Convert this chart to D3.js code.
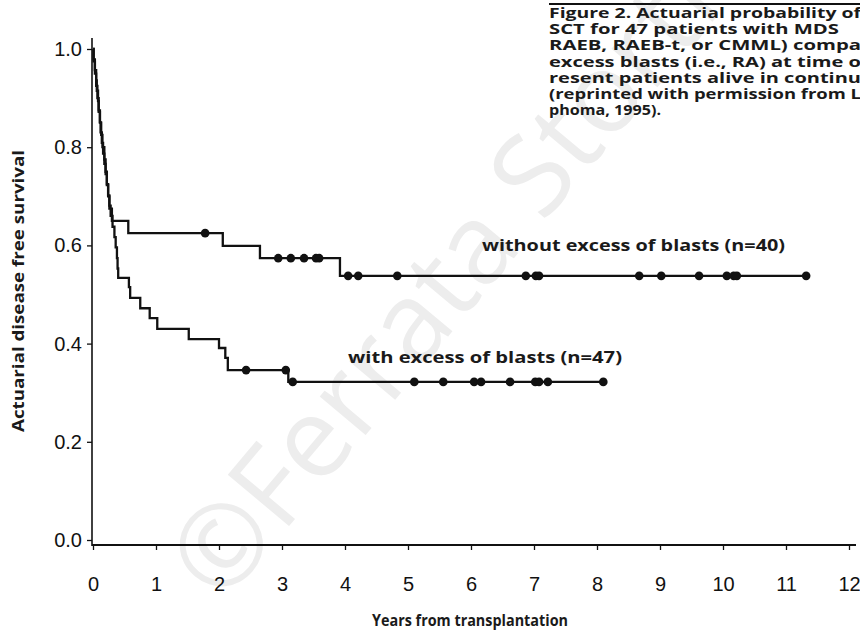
<!DOCTYPE html>
<html>
<head>
<meta charset="utf-8">
<script src="https://cdn.jsdelivr.net/npm/d3@7"></script>
<style>
  body { margin: 0; background: #fff; }
  .tick text { font-family: "Liberation Sans", Arial, sans-serif; font-size: 20px; fill: #111; }
  .tick line { stroke: #111; stroke-width: 1.3; }
  .bold-label { font-family: "Open Sans", "DejaVu Sans", sans-serif; font-weight: 700; fill: #1a1a1a; }
</style>
</head>
<body>
<div id="chart-div"></div>
<script>
// Kaplan-Meier step data (time in years, survival after step)
var upperTimes = [0, 0.01, 0.03, 0.05, 0.07, 0.09, 0.11, 0.13, 0.15, 0.18, 0.20, 0.22, 0.24, 0.26, 0.30, 0.56, 2.06, 2.65, 3.92];
var upperSurv  = [1.0, 0.975, 0.95, 0.925, 0.90, 0.875, 0.85, 0.825, 0.80, 0.775, 0.75, 0.725, 0.70, 0.675, 0.65, 0.625, 0.599, 0.574, 0.538];
var upperEnd = 11.32;
var upperCensored = [1.78, 2.94, 3.14, 3.35, 3.54, 3.59, 4.05, 4.21, 4.83, 6.87, 7.03, 7.08, 8.67, 9.02, 9.62, 10.06, 10.17, 10.22, 11.32];

var lowerTimes = [0, 0.01, 0.03, 0.05, 0.06, 0.08, 0.09, 0.11, 0.12, 0.14, 0.16, 0.18, 0.20, 0.22, 0.24, 0.26, 0.28, 0.31, 0.34, 0.36, 0.38, 0.39, 0.40, 0.57, 0.59, 0.75, 0.90, 1.02, 1.52, 2.00, 2.10, 2.14, 3.10];
var lowerSurv  = [1.0, 0.979, 0.957, 0.936, 0.915, 0.894, 0.872, 0.851, 0.830, 0.809, 0.787, 0.766, 0.745, 0.723, 0.702, 0.681, 0.660, 0.638, 0.617, 0.596, 0.574, 0.553, 0.534, 0.515, 0.493, 0.472, 0.452, 0.430, 0.409, 0.391, 0.371, 0.346, 0.322];
var lowerEnd = 8.10;
var lowerCensored = [2.43, 3.06, 3.17, 5.10, 5.56, 6.05, 6.16, 6.62, 7.02, 7.08, 7.22, 8.10];

var xTicks = [0, 1, 2, 3, 4, 5, 6, 7, 8, 9, 10, 11, 12];
var yTicks = [0, 0.2, 0.4, 0.6, 0.8, 1.0];

var seriesLabels = ["without excess of blasts (n=40)", "with excess of blasts (n=47)"];
var captionLines = [
  "Figure 2. Actuarial probability of",
  "SCT for 47 patients with MDS",
  "RAEB, RAEB-t, or CMML) compa",
  "excess blasts (i.e., RA) at time o",
  "resent patients alive in continu",
  "(reprinted with permission from L",
  "phoma, 1995)."
];

var fn = {};
var vars = {};

vars.chart = { width: 860, height: 634, selections: {} };

fn.build_steps = function(times, surv, end) {
  var pts = times.map(function(t, i) { return { x: t, y: surv[i] }; });
  pts.push({ x: end, y: surv[surv.length - 1] });
  return pts;
};

fn.surv_at = function(times, surv, t) {
  var idx = d3.bisectRight(times, t) - 1;
  return surv[Math.max(0, idx)];
};

fn.main = function() {
  var svg = d3.select("#chart-div").append("svg")
    .attr("width", vars.chart.width)
    .attr("height", vars.chart.height)
    .style("display", "block");

  svg.append("rect").attr("width", 860).attr("height", 634).attr("fill", "#fff");

  // watermark
  svg.append("text")
    .attr("transform", "translate(222,606) rotate(-50)")
    .attr("font-family", "'Open Sans', sans-serif")
    .attr("font-size", 112)
    .attr("fill", "#ededed")
    .text("\u00a9Ferrata Storti Foundation");

  var x = d3.scaleLinear().domain([0, 12]).range([93, 849]);
  var y = d3.scaleLinear().domain([0, 1]).range([540, 49]);
  vars.chart.x_scale = x;
  vars.chart.y_scale = y;

  // axis lines drawn a bit longer than the data range, like the print
  svg.append("line").attr("x1", 92).attr("x2", 92).attr("y1", 38).attr("y2", 546)
    .attr("stroke", "#111").attr("stroke-width", 1.6);
  svg.append("line").attr("x1", 92).attr("x2", 856).attr("y1", 545).attr("y2", 545)
    .attr("stroke", "#111").attr("stroke-width", 1.8);

  var yAxis = svg.append("g")
    .attr("transform", "translate(92,0)")
    .call(d3.axisLeft(y).tickValues(yTicks).tickFormat(d3.format(".1f")).tickSize(5).tickPadding(5));
  yAxis.select(".domain").remove();

  var xAxis = svg.append("g")
    .attr("transform", "translate(0,545)")
    .call(d3.axisBottom(x).tickValues(xTicks).tickFormat(d3.format("d")).tickSize(5).tickPadding(27));
  xAxis.select(".domain").remove();

  // axis titles
  svg.append("text").attr("class", "bold-label")
    .attr("transform", "translate(24,291) rotate(-90)")
    .attr("text-anchor", "middle")
    .attr("font-size", 16.5)
    .attr("textLength", 282).attr("lengthAdjust", "spacingAndGlyphs")
    .text("Actuarial disease free survival");

  svg.append("text").attr("class", "bold-label")
    .attr("x", 470).attr("y", 626)
    .attr("text-anchor", "middle")
    .attr("font-size", 15.5)
    .attr("textLength", 196).attr("lengthAdjust", "spacingAndGlyphs")
    .text("Years from transplantation");

  // curves
  var line_fn = d3.line()
    .x(function(d) { return x(d.x); })
    .y(function(d) { return y(d.y); })
    .curve(d3.curveStepAfter);

  var series = [
    { steps: fn.build_steps(upperTimes, upperSurv, upperEnd), times: upperTimes, surv: upperSurv, cens: upperCensored },
    { steps: fn.build_steps(lowerTimes, lowerSurv, lowerEnd), times: lowerTimes, surv: lowerSurv, cens: lowerCensored }
  ];

  series.forEach(function(s) {
    svg.append("path")
      .datum(s.steps)
      .attr("d", line_fn)
      .attr("fill", "none")
      .attr("stroke", "#111")
      .attr("stroke-width", 2.3);

    svg.append("g").selectAll("circle")
      .data(s.cens)
      .enter().append("circle")
      .attr("cx", function(t) { return x(t); })
      .attr("cy", function(t) { return y(fn.surv_at(s.times, s.surv, t)); })
      .attr("r", 4.3)
      .attr("fill", "#111");
  });

  // series labels
  svg.append("text").attr("class", "bold-label")
    .attr("x", 482).attr("y", 251).attr("font-size", 16.5)
    .attr("textLength", 303).attr("lengthAdjust", "spacingAndGlyphs")
    .text(seriesLabels[0]);
  svg.append("text").attr("class", "bold-label")
    .attr("x", 348).attr("y", 363).attr("font-size", 16.5)
    .attr("textLength", 274).attr("lengthAdjust", "spacingAndGlyphs")
    .text(seriesLabels[1]);

  // caption block, top right
  svg.append("line").attr("x1", 549).attr("x2", 860).attr("y1", 4).attr("y2", 4)
    .attr("stroke", "#111").attr("stroke-width", 2);

  var capWidths = [312, 290, 312, 312, 312, 312, 112];
  svg.append("g").selectAll("text")
    .data(captionLines)
    .enter().append("text")
    .attr("class", "bold-label")
    .attr("x", 549)
    .attr("y", function(d, i) { return 18 + i * 16.2; })
    .attr("font-size", 14.8)
    .attr("textLength", function(d, i) { return capWidths[i]; })
    .attr("lengthAdjust", "spacingAndGlyphs")
    .text(function(d) { return d; });
};

fn.main();
</script>
</body>
</html>
